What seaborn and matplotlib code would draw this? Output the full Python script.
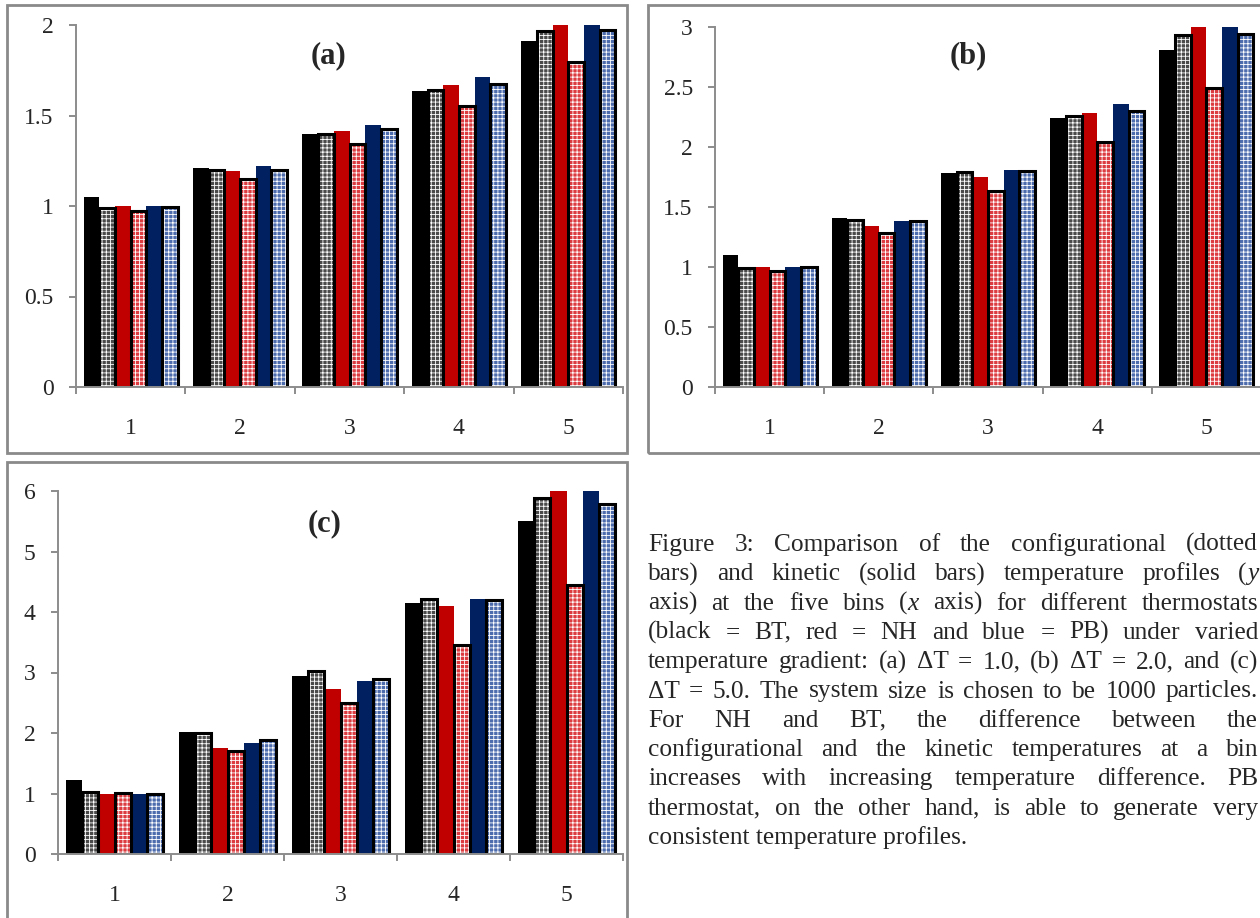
import numpy as np
import matplotlib
matplotlib.use("Agg")
import matplotlib.pyplot as plt
import pandas as pd
import seaborn as sns
from matplotlib.patches import Rectangle

# bins and the six bar series (kinetic = solid, configurational = dotted)
bins = [1, 2, 3, 4, 5]
series = ["BT kin", "BT conf", "NH kin", "NH conf", "PB kin", "PB conf"]
colors = ["#000000", "#4a4a4a", "#c00000", "#dc3c40", "#002060", "#4c6cae"]
dotted = [False, True, False, True, False, True]

# (a) dT = 1.0
a_bt_kin = [1.05, 1.21, 1.40, 1.635, 1.91]
a_bt_conf = [0.99, 1.20, 1.40, 1.64, 1.965]
a_nh_kin = [1.00, 1.195, 1.415, 1.67, 2.03]
a_nh_conf = [0.97, 1.15, 1.34, 1.555, 1.795]
a_pb_kin = [1.00, 1.22, 1.45, 1.71, 2.03]
a_pb_conf = [0.995, 1.20, 1.425, 1.675, 1.975]

# (b) dT = 2.0
b_bt_kin = [1.10, 1.41, 1.78, 2.24, 2.81]
b_bt_conf = [0.99, 1.39, 1.79, 2.26, 2.93]
b_nh_kin = [1.00, 1.34, 1.75, 2.28, 3.05]
b_nh_conf = [0.97, 1.28, 1.63, 2.04, 2.49]
b_pb_kin = [1.00, 1.38, 1.81, 2.36, 3.05]
b_pb_conf = [1.00, 1.38, 1.80, 2.30, 2.94]

# (c) dT = 5.0
c_bt_kin = [1.23, 2.01, 2.95, 4.15, 5.50]
c_bt_conf = [1.02, 2.00, 3.02, 4.22, 5.88]
c_nh_kin = [1.00, 1.75, 2.72, 4.10, 6.05]
c_nh_conf = [1.01, 1.70, 2.50, 3.46, 4.45]
c_pb_kin = [0.99, 1.83, 2.86, 4.22, 6.05]
c_pb_conf = [1.00, 1.88, 2.90, 4.20, 5.78]

a_yticks = [0, 0.5, 1, 1.5, 2]
b_yticks = [0, 0.5, 1, 1.5, 2, 2.5, 3]
c_yticks = [0, 1, 2, 3, 4, 5, 6]

caption_lines = [
    "Figure 3: Comparison of the configurational (dotted",
    "bars) and kinetic (solid bars) temperature profiles (*y*",
    "axis) at the five bins (*x* axis) for different thermostats",
    "(black = BT, red = NH and blue = PB) under varied",
    "temperature gradient: (a) ΔT = 1.0, (b) ΔT = 2.0, and (c)",
    "ΔT = 5.0. The system size is chosen to be 1000 particles.",
    "For NH and BT, the difference between the",
    "configurational and the kinetic temperatures at a bin",
    "increases with increasing temperature difference. PB",
    "thermostat, on the other hand, is able to generate very",
    "consistent temperature profiles.",
]

sns.set_style("white")
plt.rcParams["font.family"] = ["Liberation Serif", "DejaVu Serif"]
plt.rcParams["hatch.linewidth"] = 0.6

W, H = 1260, 918
fig = plt.figure(figsize=(W / 100, H / 100), dpi=100)
gray = "#8c8c8c"


def px_axes(x0, y0, x1, y1):
    return fig.add_axes([x0 / W, 1 - y1 / H, (x1 - x0) / W, (y1 - y0) / H])


def frame(x0, y0, x1, y1):
    fig.patches.append(Rectangle((x0 / W, 1 - y1 / H), (x1 - x0) / W, (y1 - y0) / H,
                                 transform=fig.transFigure, fill=False,
                                 edgecolor="#8a8a8a", linewidth=2))


def panel(ax, values, yticks, label, label_xy):
    df = pd.DataFrame({
        "bin": np.repeat(bins, len(series)),
        "series": series * len(bins),
        "value": np.array(values).T.ravel(),
    })
    sns.barplot(data=df, x="bin", y="value", hue="series", hue_order=series,
                palette=colors, saturation=1, width=0.86, errorbar=None,
                legend=False, ax=ax)
    for cont, col, dot in zip(ax.containers, colors, dotted):
        for p in cont.patches:
            if dot:
                p.set_hatch("++++")
                p.set_edgecolor("white")
                p.set_linewidth(0)
                ax.add_patch(Rectangle(p.get_xy(), p.get_width(), p.get_height(),
                                       fill=False, edgecolor="black", linewidth=2.2,
                                       zorder=p.get_zorder() + 0.1))
            else:
                p.set_edgecolor(col)
                p.set_linewidth(0)
    ax.set_xlim(-0.5, 4.5)
    ax.set_ylim(0, yticks[-1])
    ax.set_yticks(yticks)
    ax.set_yticklabels([f"{v:g}" for v in yticks])
    ax.set_xticks(np.arange(-0.5, 5, 1), minor=True)
    ax.set_xlabel("")
    ax.set_ylabel("")
    for s in ["top", "right"]:
        ax.spines[s].set_visible(False)
    for s in ["left", "bottom"]:
        ax.spines[s].set_color(gray)
        ax.spines[s].set_linewidth(1.4)
    ax.tick_params(axis="y", direction="out", length=5, width=1.4, color=gray,
                   pad=11, labelsize=17, left=True)
    ax.tick_params(axis="x", which="major", length=0, pad=22, labelsize=17)
    ax.tick_params(axis="x", which="minor", direction="out", length=5, width=1.4,
                   color=gray, bottom=True)
    fig.text(label_xy[0] / W, 1 - label_xy[1] / H, label, ha="center", va="center",
             fontsize=22, fontweight="bold")


frame(7, 5, 627, 453)
frame(648, 5, 1268, 453)
frame(7, 462, 627, 930)

ax_a = px_axes(76, 25, 623, 387)
panel(ax_a, [a_bt_kin, a_bt_conf, a_nh_kin, a_nh_conf, a_pb_kin, a_pb_conf],
      a_yticks, "(a)", (328, 56))

ax_b = px_axes(715, 27, 1261, 387)
panel(ax_b, [b_bt_kin, b_bt_conf, b_nh_kin, b_nh_conf, b_pb_kin, b_pb_conf],
      b_yticks, "(b)", (968, 56))

ax_c = px_axes(58, 491, 623, 854)
panel(ax_c, [c_bt_kin, c_bt_conf, c_nh_kin, c_nh_conf, c_pb_kin, c_pb_conf],
      c_yticks, "(c)", (325, 524))

# justified caption
renderer = fig.canvas.get_renderer()
cap_size = 18.3
cap_x0, cap_x1 = 648, 1258


def draw_word(x, y, word, keep=True):
    xx = x
    for k, part in enumerate(word.split("*")):
        if not part:
            continue
        t = fig.text(xx / W, 1 - y / H, part, fontsize=cap_size, ha="left",
                     va="baseline", style="italic" if k % 2 else "normal")
        xx += t.get_window_extent(renderer).width
        if not keep:
            t.remove()
    return xx - x


for i, line in enumerate(caption_lines):
    y = 551 + 29.3 * i
    if i == len(caption_lines) - 1:
        fig.text(cap_x0 / W, 1 - y / H, line, fontsize=cap_size, ha="left", va="baseline")
        continue
    words = line.split(" ")
    widths = [draw_word(0, y, w, keep=False) for w in words]
    gap = (cap_x1 - cap_x0 - sum(widths)) / (len(words) - 1)
    x = cap_x0
    for w, wd in zip(words, widths):
        draw_word(x, y, w)
        x += wd + gap

fig.savefig("out.png", dpi=100)
